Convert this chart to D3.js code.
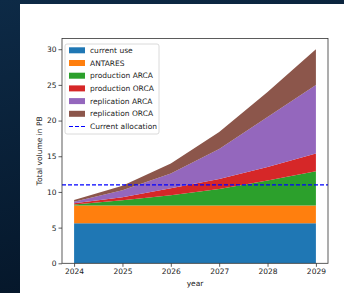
<!DOCTYPE html>
<html>
<head>
<meta charset="utf-8">
<script src="https://cdn.jsdelivr.net/npm/d3@7"></script>
<style>
  body { margin: 0; overflow: hidden; }
  text { font-family: "DejaVu Sans", sans-serif; }
</style>
</head>
<body>
<script>
const width = 344;
const height = 293;

// data (PB)
const years = [2024, 2025, 2026, 2027, 2028, 2029];
const currentUse = [5.6, 5.6, 5.6, 5.6, 5.6, 5.6];
const antares = [2.5, 2.5, 2.5, 2.5, 2.5, 2.5];
const productionARCA = [0.15, 0.75, 1.45, 2.3, 3.5, 4.8];
const productionORCA = [0.15, 0.4, 0.95, 1.4, 1.9, 2.5];
const replicationARCA = [0.23, 1.0, 2.1, 4.2, 7.0, 9.6];
const replicationORCA = [0.24, 0.6, 1.4, 2.4, 3.5, 5.0];
const currentAllocation = 11;

const seriesNames = ['current use', 'ANTARES', 'production ARCA', 'production ORCA', 'replication ARCA', 'replication ORCA'];
const seriesValues = [currentUse, antares, productionARCA, productionORCA, replicationARCA, replicationORCA];
const colors = ['#1f77b4', '#ff7f0e', '#2ca02c', '#d62728', '#9467bd', '#8c564b'];
const yTicks = [0, 5, 10, 15, 20, 25, 30];
const fs = 7.5;

const rows = years.map((y, i) => {
    const r = {year: y};
    seriesNames.forEach((k, j) => r[k] = seriesValues[j][i]);
    return r;
});

const svg = d3.select('body')
              .append('svg')
              .attr('width', width)
              .attr('height', height);

// page background around the figure
const grad = svg.append('defs').append('linearGradient')
    .attr('id', 'bg').attr('x1', 0).attr('y1', 0).attr('x2', 0.3).attr('y2', 1);
grad.append('stop').attr('offset', 0).attr('stop-color', '#0d2a46');
grad.append('stop').attr('offset', 1).attr('stop-color', '#051629');

svg.append('rect').attr('width', width).attr('height', height).attr('fill', 'url(#bg)');
svg.append('rect').attr('x', 20).attr('y', 4).attr('width', width - 20).attr('height', height - 4).attr('fill', 'white');

const mLeft = 62, mRight = 328, mTop = 38.5, mBottom = 263.3;

const x = d3.scaleLinear().domain([2024 - 0.25, 2029 + 0.25]).range([mLeft, mRight]);
const y = d3.scaleLinear().domain([0, 31.5]).range([mBottom, mTop]);

const stack = d3.stack().keys(seriesNames)(rows);

const area = d3.area()
    .x(d => x(d.data.year))
    .y0(d => y(d[0]))
    .y1(d => y(d[1]));

svg.append('g')
    .selectAll('path')
    .data(stack)
    .join('path')
        .attr('d', area)
        .attr('fill', (d, i) => colors[i]);

svg.append('line')
    .attr('x1', mLeft).attr('x2', mRight)
    .attr('y1', y(currentAllocation)).attr('y2', y(currentAllocation))
    .attr('stroke', '#0000ff')
    .attr('stroke-width', 1.2)
    .attr('stroke-dasharray', '4,2');

// axes
const xAxis = svg.append('g')
    .attr('transform', `translate(0,${mBottom})`)
    .call(d3.axisBottom(x).tickValues(years).tickFormat(d3.format('d')).tickSize(3.5).tickSizeOuter(0));
const yAxis = svg.append('g')
    .attr('transform', `translate(${mLeft},0)`)
    .call(d3.axisLeft(y).tickValues(yTicks).tickSize(3.5).tickSizeOuter(0));

[xAxis, yAxis].forEach(a => {
    a.select('.domain').remove();
    a.selectAll('line').attr('stroke', '#333').attr('stroke-width', 0.8);
    a.selectAll('text').attr('font-size', fs).attr('fill', '#222')
        .style('font-family', '"DejaVu Sans", sans-serif');
});
xAxis.selectAll('text').attr('dy', '0.85em').attr('y', 4.5);
yAxis.selectAll('text').attr('x', -5.5);

svg.append('rect')
    .attr('x', mLeft).attr('y', mTop)
    .attr('width', mRight - mLeft).attr('height', mBottom - mTop)
    .attr('fill', 'none').attr('stroke', '#333').attr('stroke-width', 0.8);

svg.append('text')
    .attr('x', (mLeft + mRight) / 2).attr('y', 286)
    .attr('text-anchor', 'middle')
    .attr('font-size', fs).attr('fill', '#222')
    .text('year');

svg.append('text')
    .attr('transform', `translate(42,${(mTop + mBottom) / 2}) rotate(-90)`)
    .attr('text-anchor', 'middle')
    .attr('font-size', fs).attr('fill', '#222')
    .text('Total volume in PB');

// legend
const legend = svg.append('g').attr('transform', 'translate(65,44)');
legend.append('rect')
    .attr('width', 94).attr('height', 90).attr('rx', 2)
    .attr('fill', 'white').attr('fill-opacity', 0.8)
    .attr('stroke', '#d0d0d0').attr('stroke-width', 0.8);

const items = legend.selectAll('g.item')
    .data(seriesNames.concat(['Current allocation']))
    .join('g')
        .attr('class', 'item')
        .attr('transform', (d, i) => `translate(4,${6.3 + i * 12.7})`);

items.filter((d, i) => i < seriesNames.length)
    .append('rect')
        .attr('x', 0).attr('y', -3).attr('width', 16).attr('height', 6)
        .attr('fill', (d, i) => colors[i]);

items.filter((d, i) => i === seriesNames.length)
    .append('line')
        .attr('x1', 0).attr('x2', 16)
        .attr('stroke', '#0000ff').attr('stroke-width', 1.2)
        .attr('stroke-dasharray', '4,2');

items.append('text')
    .attr('x', 21).attr('dy', '0.35em')
    .attr('font-size', fs).attr('fill', '#222')
    .text(d => d);
</script>
</body>
</html>
